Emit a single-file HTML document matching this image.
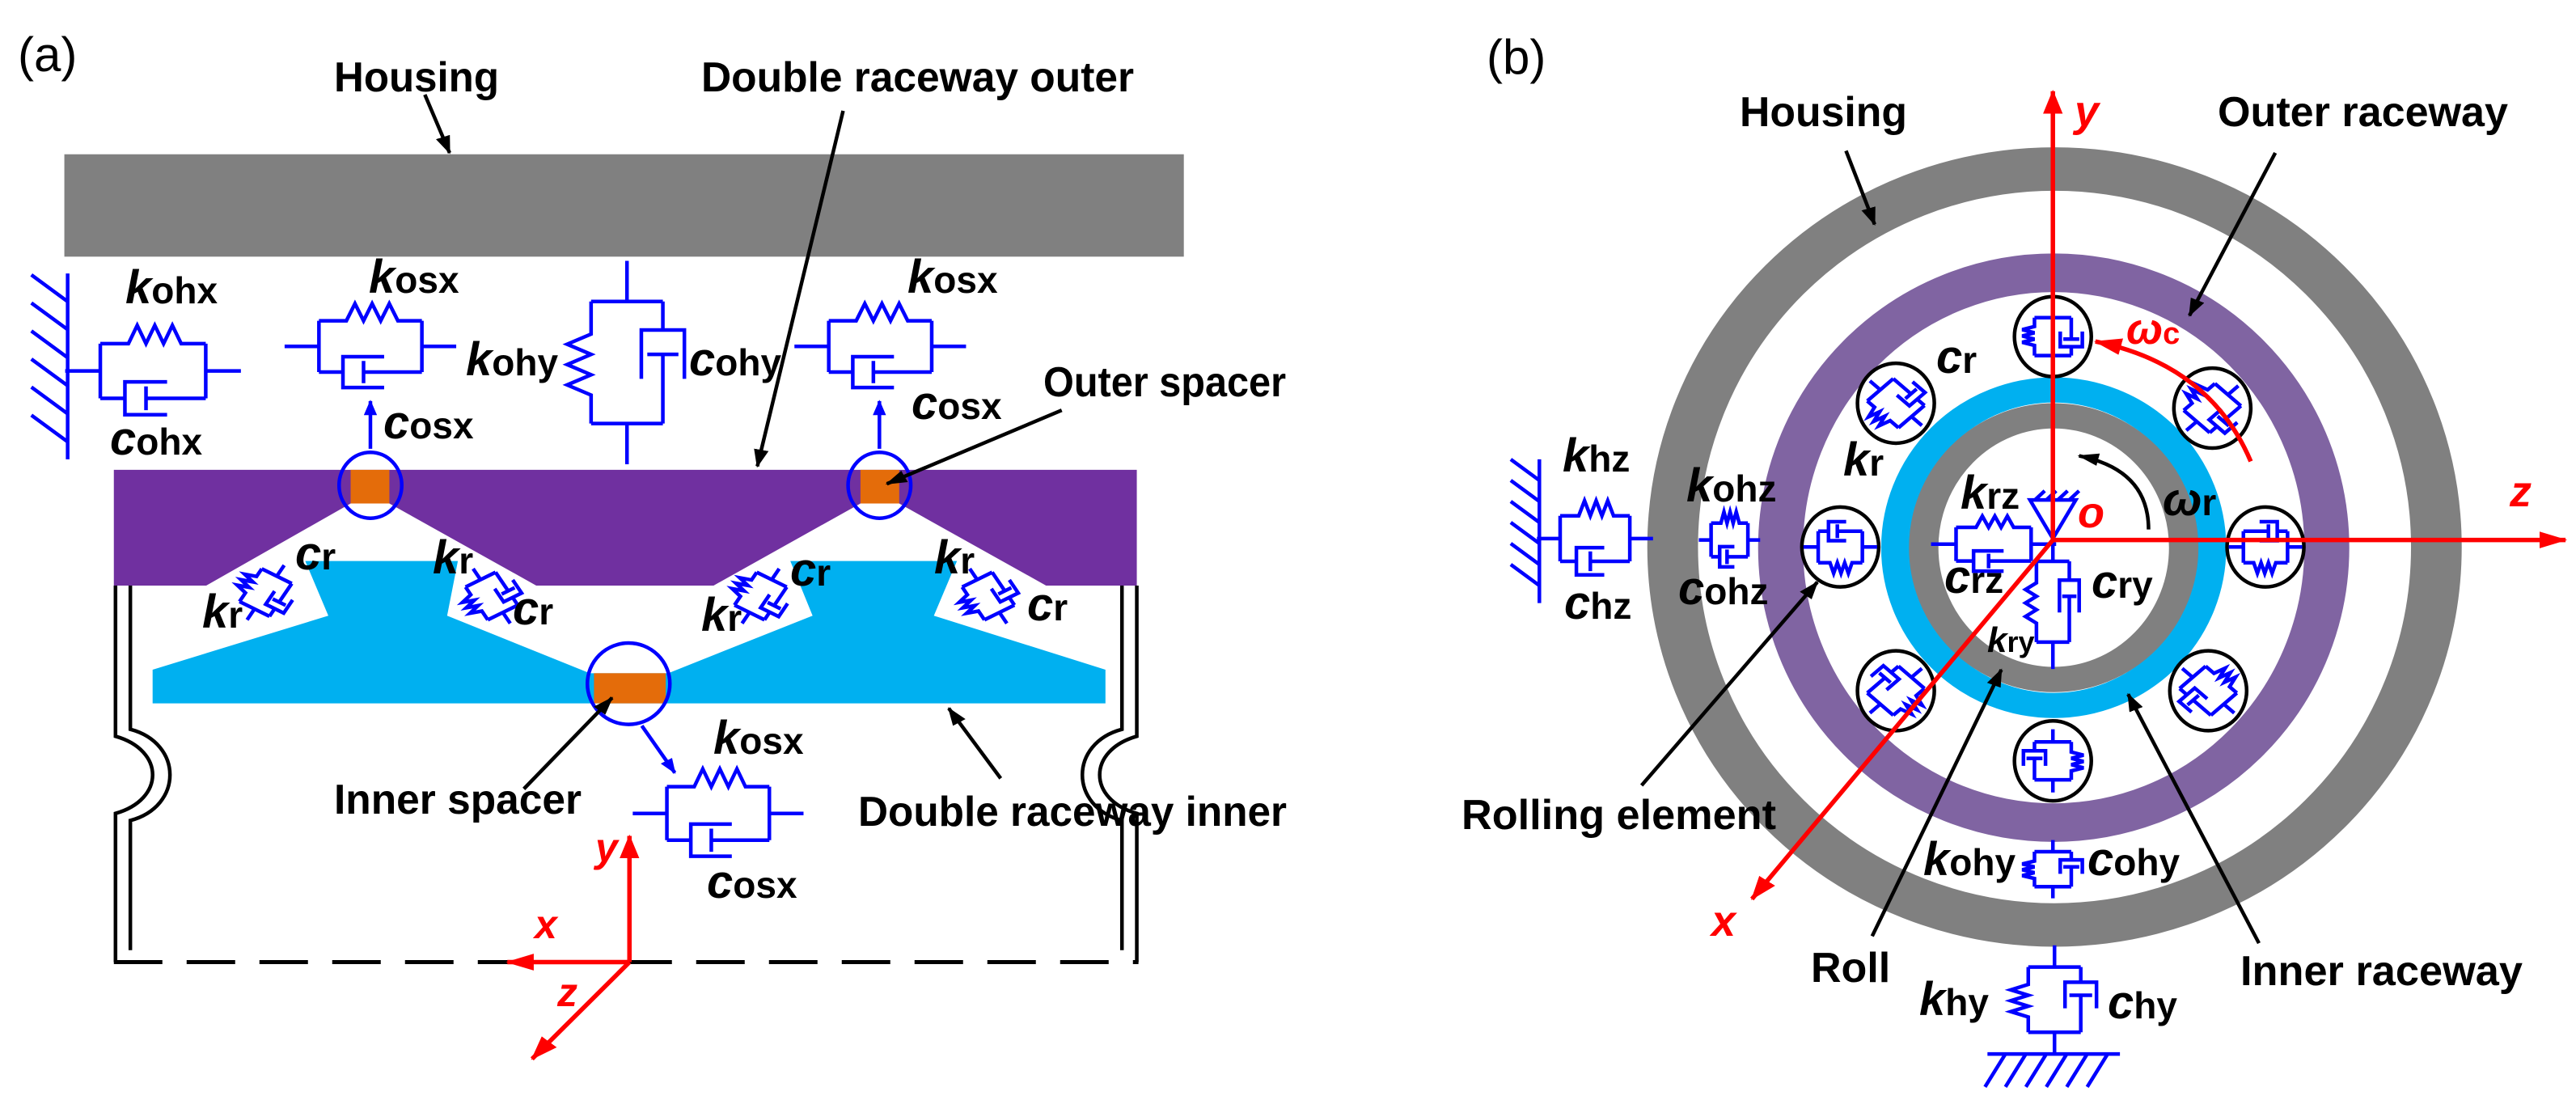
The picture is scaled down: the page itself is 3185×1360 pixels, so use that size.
<!DOCTYPE html>
<html><head><meta charset="utf-8"><style>
html,body{margin:0;padding:0;background:#fff;}
svg{display:block;font-family:"Liberation Sans",sans-serif;font-weight:bold;}
.b{fill:none;stroke:#0000ff;stroke-width:4.5;vector-effect:non-scaling-stroke;}
.k{fill:none;stroke:#000;stroke-width:4.5;vector-effect:non-scaling-stroke;}
.r{fill:none;stroke:#ff0000;stroke-width:5.5;vector-effect:non-scaling-stroke;}
</style></head><body>
<svg width="3185" height="1360" viewBox="0 0 3185 1360" xmlns="http://www.w3.org/2000/svg">
<defs>
<g id="sd">
<path class="b" d="M0 0H20M80 0H100M20 -30V30M80 -30V30M20 -30H36L41 -50L46 -30L51 -50L56 -30L61 -50L66 -30H80M20 30H34M58 12H34V48H58M46 17V43M46 30H80"/>
</g>
<marker id="ab" markerUnits="userSpaceOnUse" markerWidth="26" markerHeight="18" refX="24" refY="9" orient="auto"><path d="M0 0L26 9L0 18z" fill="#000"/></marker>
<marker id="ar" markerUnits="userSpaceOnUse" markerWidth="34" markerHeight="24" refX="32" refY="12" orient="auto"><path d="M0 0L34 12L0 24z" fill="#f00"/></marker>
<marker id="abl" markerUnits="userSpaceOnUse" markerWidth="22" markerHeight="16" refX="20" refY="8" orient="auto"><path d="M0 0L22 8L0 16z" fill="#00f"/></marker>
</defs>

<g transform="scale(1.02,0.867)">
<rect x="78" y="220" width="1357" height="146" fill="#808080"/>
<polygon fill="#00b0f0" points="185,955 398,878 370,800 555,800 542,878 715,960 810,960 985,878 958,800 1160,800 1132,878 1340,955 1340,1003 185,1003"/>
<polygon fill="#7030a0" points="138,670 1378,670 1378,835 1268,835 1090,718 1043,718 865,835 650,835 472,718 425,718 250,835 138,835"/>
<rect x="425" y="670" width="47" height="48" fill="#e46c0a"/>
<rect x="1043" y="670" width="47" height="48" fill="#e46c0a"/>
<rect x="720" y="960" width="87" height="43" fill="#e46c0a"/>
<ellipse class="b" cx="449" cy="692" rx="38" ry="47"/>
<ellipse class="b" cx="1066" cy="692" rx="38" ry="47"/>
<ellipse class="b" cx="762" cy="975" rx="50" ry="58"/>
<path class="k" d="M140 835V1050C200 1070 200 1140 140 1160V1372"/>
<path class="k" d="M158 835V1040C222 1060 222 1150 158 1170V1355"/>
<path class="k" d="M1378 835V1050C1318 1070 1318 1140 1378 1160V1372"/>
<path class="k" d="M1360 835V1040C1296 1060 1296 1150 1360 1170V1355"/>
<path class="k" d="M138 1372H1380" stroke-dasharray="60,30" style="stroke-width:5"/>
<path class="b" d="M82 390V655M82 430L38 392M82 470L38 432M82 510L38 472M82 550L38 512M82 590L38 552M82 630L38 592"/>
<use href="#sd" transform="translate(79,529) scale(2.13,1.3)"/>
<use href="#sd" transform="translate(345,494) scale(2.08,1.22)"/>
<use href="#sd" transform="translate(963,494) scale(2.08,1.22)"/>
<use href="#sd" transform="translate(760,372) rotate(90) scale(2.9,-1.45)"/>
<use href="#sd" transform="translate(767,1160) scale(2.07,1.27)"/>
<use href="#sd" transform="translate(322,845) rotate(-60) scale(0.9,0.7) translate(-50,0)"/>
<use href="#sd" transform="translate(596,850) rotate(-120) scale(0.9,0.7) translate(-50,0)"/>
<use href="#sd" transform="translate(922,850) rotate(-60) scale(0.9,0.7) translate(-50,0)"/>
<use href="#sd" transform="translate(1198,850) rotate(-120) scale(0.9,0.7) translate(-50,0)"/>
<path class="k" d="M515 135L545 218" marker-end="url(#ab)"/>
<path class="k" d="M1022 158L918 665" marker-end="url(#ab)"/>
<path class="k" d="M1287 585L1075 690" marker-end="url(#ab)"/>
<path class="k" d="M635 1125L742 995" marker-end="url(#ab)"/>
<path class="k" d="M1213 1110L1150 1010" marker-end="url(#ab)"/>
<path class="b" d="M449 640V572" marker-end="url(#abl)"/>
<path class="b" d="M1066 640V572" marker-end="url(#abl)"/>
<path class="b" d="M778 1035L818 1102" marker-end="url(#abl)"/>
<path class="r" d="M763 1372V1192" marker-end="url(#ar)"/>
<path class="r" d="M763 1372H615" marker-end="url(#ar)"/>
<path class="r" d="M763 1372L645 1510" marker-end="url(#ar)"/>
</g>

<g font-size="52">
<text x="22" y="88" font-weight="normal" font-size="60">(a)</text>
<text x="413" y="113" textLength="204" lengthAdjust="spacingAndGlyphs">Housing</text>
<text x="867" y="113" textLength="535" lengthAdjust="spacingAndGlyphs">Double raceway outer</text>
<text x="1290" y="490" textLength="300" lengthAdjust="spacingAndGlyphs">Outer spacer</text>
<text x="413" y="1006" textLength="306" lengthAdjust="spacingAndGlyphs">Inner spacer</text>
<text x="1061" y="1021" textLength="530" lengthAdjust="spacingAndGlyphs">Double raceway inner</text>
</g>
<g font-size="46">
<text x="155" y="375"><tspan font-style="italic" font-size="58">k</tspan>ohx</text>
<text x="136" y="562"><tspan font-style="italic" font-size="58">c</tspan>ohx</text>
<text x="456" y="362"><tspan font-style="italic" font-size="58">k</tspan>osx</text>
<text x="474" y="542"><tspan font-style="italic" font-size="58">c</tspan>osx</text>
<text x="576" y="464"><tspan font-style="italic" font-size="58">k</tspan>ohy</text>
<text x="852" y="464"><tspan font-style="italic" font-size="58">c</tspan>ohy</text>
<text x="1122" y="362"><tspan font-style="italic" font-size="58">k</tspan>osx</text>
<text x="1127" y="518"><tspan font-style="italic" font-size="58">c</tspan>osx</text>
<text x="882" y="932"><tspan font-style="italic" font-size="58">k</tspan>osx</text>
<text x="874" y="1110"><tspan font-style="italic" font-size="58">c</tspan>osx</text>
<text x="365" y="704"><tspan font-style="italic" font-size="58">c</tspan>r</text>
<text x="250" y="776"><tspan font-style="italic" font-size="58">k</tspan>r</text>
<text x="535" y="709"><tspan font-style="italic" font-size="58">k</tspan>r</text>
<text x="634" y="772"><tspan font-style="italic" font-size="58">c</tspan>r</text>
<text x="867" y="780"><tspan font-style="italic" font-size="58">k</tspan>r</text>
<text x="977" y="724"><tspan font-style="italic" font-size="58">c</tspan>r</text>
<text x="1155" y="709"><tspan font-style="italic" font-size="58">k</tspan>r</text>
<text x="1270" y="767"><tspan font-style="italic" font-size="58">c</tspan>r</text>
</g>
<g fill="#f00" font-style="italic" font-size="50">
<text x="736" y="1065">y</text>
<text x="661" y="1160">x</text>
<text x="689" y="1244">z</text>
</g>

<g transform="translate(1600,0) scale(1.011,0.867)">
<ellipse cx="930" cy="780" rx="467" ry="539" fill="none" stroke="#808080" stroke-width="62"/>
<ellipse cx="929" cy="781" rx="334" ry="392" fill="none" stroke="#8064a2" stroke-width="55"/>
<ellipse cx="929" cy="781" rx="193" ry="225" fill="none" stroke="#00b0f0" stroke-width="36"/>
<ellipse cx="929" cy="781" rx="159" ry="188" fill="none" stroke="#808080" stroke-width="36"/>
<g>
<ellipse class="k" cx="928" cy="480" rx="47" ry="57" fill="#fff"/>
<ellipse class="k" cx="1123" cy="582" rx="47" ry="57" fill="#fff"/>
<ellipse class="k" cx="1188" cy="780" rx="47" ry="57" fill="#fff"/>
<ellipse class="k" cx="1118" cy="985" rx="47" ry="57" fill="#fff"/>
<ellipse class="k" cx="928" cy="1085" rx="47" ry="57" fill="#fff"/>
<ellipse class="k" cx="736" cy="985" rx="47" ry="57" fill="#fff"/>
<ellipse class="k" cx="668" cy="780" rx="47" ry="57" fill="#fff"/>
<ellipse class="k" cx="736" cy="575" rx="47" ry="57" fill="#fff"/>
<use href="#sd" transform="translate(928,480) rotate(-90) scale(0.9,0.75) translate(-50,0)"/>
<use href="#sd" transform="translate(1123,582) rotate(-45) scale(0.9,0.75) translate(-50,0)"/>
<use href="#sd" transform="translate(1188,780) rotate(180) scale(0.9,0.75) translate(-50,0)"/>
<use href="#sd" transform="translate(1118,985) rotate(45) scale(0.9,0.75) translate(-50,0)"/>
<use href="#sd" transform="translate(928,1085) rotate(90) scale(0.9,0.75) translate(-50,0)"/>
<use href="#sd" transform="translate(736,985) rotate(135) scale(0.9,0.75) translate(-50,0)"/>
<use href="#sd" transform="translate(668,780) rotate(0) scale(0.9,-0.75) translate(-50,0)"/>
<use href="#sd" transform="translate(736,575) rotate(-135) scale(0.9,0.75) translate(-50,0)"/>
</g>
<path class="b" d="M300 655V860M300 685L265 655M300 715L265 685M300 745L265 715M300 775L265 745M300 805L265 775M300 835L265 805"/>
<use href="#sd" transform="translate(297,768) scale(1.42,1.08)"/>
<use href="#sd" transform="translate(495,770) scale(0.75,0.8)"/>
<use href="#sd" transform="translate(779,776) scale(1.53,0.8)"/>
<use href="#sd" transform="translate(928,762) rotate(90) scale(1.92,-0.67)"/>
<use href="#sd" transform="translate(928,1198) rotate(90) scale(0.83,-0.75)"/>
<use href="#sd" transform="translate(930,1348) rotate(90) scale(1.55,-1.07)"/>
<path class="b" d="M848 1503H1010M870 1503L845 1550M895 1503L870 1550M920 1503L895 1550M945 1503L920 1550M970 1503L945 1550M995 1503L970 1550"/>
<path class="b" d="M900 713H956L928 768Z M906 713L918 700M920 713L932 700M934 713L946 700M948 713L960 700"/>
<path class="r" d="M928 770V130" marker-end="url(#ar)"/>
<path class="r" d="M928 770H1555" marker-end="url(#ar)"/>
<path class="r" d="M928 770L560 1282" marker-end="url(#ar)"/>
<path class="r" d="M1170 658Q1120 520 980 487" marker-end="url(#ar)"/>
<path class="k" d="M1045 755Q1045 670 960 650" marker-end="url(#ab)"/>
<path class="k" d="M675 215L710 320" marker-end="url(#ab)"/>
<path class="k" d="M1200 218L1095 450" marker-end="url(#ab)"/>
<path class="k" d="M425 1120L640 830" marker-end="url(#ab)"/>
<path class="k" d="M707 1335L865 955" marker-end="url(#ab)"/>
<path class="k" d="M1180 1345L1020 990" marker-end="url(#ab)"/>
</g>

<g font-size="52">
<text x="1838" y="91" font-weight="normal" font-size="60">(b)</text>
<text x="2151" y="156" textLength="207" lengthAdjust="spacingAndGlyphs">Housing</text>
<text x="2742" y="156" textLength="359" lengthAdjust="spacingAndGlyphs">Outer raceway</text>
<text x="1807" y="1025" textLength="389" lengthAdjust="spacingAndGlyphs">Rolling element</text>
<text x="2239" y="1214">Roll</text>
<text x="2770" y="1218" textLength="349" lengthAdjust="spacingAndGlyphs">Inner raceway</text>
</g>
<g font-size="46">
<text x="2394" y="461"><tspan font-style="italic" font-size="58">c</tspan>r</text>
<text x="2279" y="588"><tspan font-style="italic" font-size="58">k</tspan>r</text>
<text x="1932" y="583"><tspan font-style="italic" font-size="58">k</tspan>hz</text>
<text x="1934" y="765"><tspan font-style="italic" font-size="58">c</tspan>hz</text>
<text x="2085" y="620"><tspan font-style="italic" font-size="58">k</tspan>ohz</text>
<text x="2075" y="747"><tspan font-style="italic" font-size="58">c</tspan>ohz</text>
<text x="2424" y="629"><tspan font-style="italic" font-size="58">k</tspan>rz</text>
<text x="2404" y="733"><tspan font-style="italic" font-size="58">c</tspan>rz</text>
<text x="2586" y="739"><tspan font-style="italic" font-size="58">c</tspan>ry</text>
<text x="2457" y="806" font-size="36"><tspan font-style="italic" font-size="44">k</tspan>ry</text>
<text x="2378" y="1082"><tspan font-style="italic" font-size="58">k</tspan>ohy</text>
<text x="2581" y="1082"><tspan font-style="italic" font-size="58">c</tspan>ohy</text>
<text x="2373" y="1255"><tspan font-style="italic" font-size="58">k</tspan>hy</text>
<text x="2606" y="1259"><tspan font-style="italic" font-size="58">c</tspan>hy</text>
<text x="2674" y="637"><tspan font-style="italic" font-size="58">ω</tspan>r</text>
</g>
<g fill="#f00" font-style="italic" font-size="54">
<text x="2565" y="156">y</text>
<text x="3103" y="626">z</text>
<text x="2116" y="1157">x</text>
<text x="2569" y="652">o</text>
<text x="2629" y="425">ω<tspan font-style="normal" font-size="38">c</tspan></text>
</g>
</svg>
</body></html>
